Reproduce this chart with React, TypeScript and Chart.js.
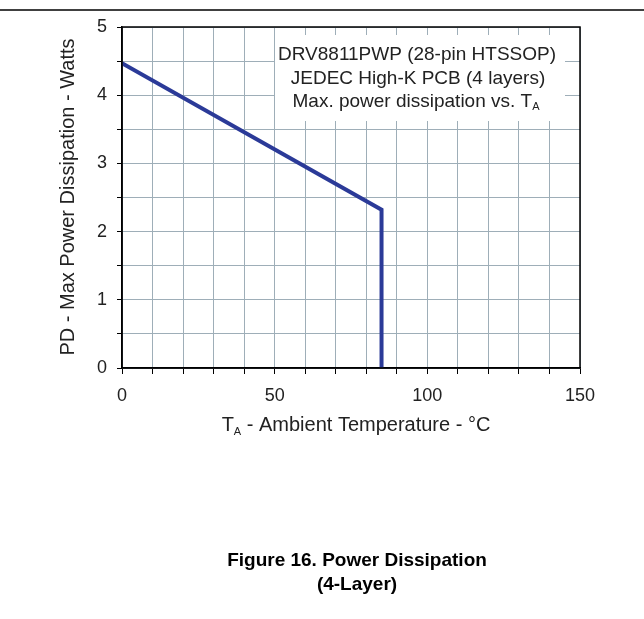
import React, { useEffect, useRef } from "react";
import { Chart, registerables } from "chart.js";

Chart.register(...registerables);

const temperatures = [0, 85, 85];
const powerWatts = [4.47, 2.32, 0];
const xTickLabels = [0, 50, 100, 150];
const yTickLabels = [0, 1, 2, 3, 4, 5];
const noteLines = ["DRV8811PWP (28-pin HTSSOP)", "JEDEC High-K PCB (4 layers)", "Max. power dissipation vs. T"];
const captionLines = ["Figure 16. Power Dissipation", "(4-Layer)"];

const FONT = "'Liberation Sans', Arial, sans-serif";

const decorPlugin = {
  id: "decor",
  beforeDatasetsDraw(chart: any) {
    const { ctx } = chart;
    ctx.save();
    ctx.fillStyle = "#ffffff";
    ctx.fillRect(275, 35, 290, 86);
    ctx.restore();
  },
  afterDraw(chart: any) {
    const { ctx, chartArea: a } = chart;
    ctx.save();
    ctx.strokeStyle = "#000";
    ctx.lineWidth = 1.5;
    ctx.strokeRect(a.left, a.top, a.right - a.left, a.bottom - a.top);
    ctx.lineWidth = 1.5;
    ctx.beginPath();
    ctx.moveTo(0, 10);
    ctx.lineTo(644, 10);
    ctx.stroke();

    ctx.fillStyle = "#222";
    ctx.textBaseline = "middle";
    ctx.textAlign = "center";
    ctx.font = `19px ${FONT}`;
    ctx.fillText(noteLines[0], 417, 55);
    ctx.fillText(noteLines[1], 418, 79);
    const w3 = ctx.measureText(noteLines[2]).width;
    ctx.font = `11px ${FONT}`;
    const ws = ctx.measureText("A").width;
    const x3 = 416 - (w3 + ws) / 2;
    ctx.textAlign = "left";
    ctx.font = `19px ${FONT}`;
    ctx.fillText(noteLines[2], x3, 102);
    ctx.font = `11px ${FONT}`;
    ctx.fillText("A", x3 + w3, 107);

    ctx.font = `20px ${FONT}`;
    const xt1 = "T";
    const xt2 = " - Ambient Temperature - °C";
    const wT = ctx.measureText(xt1).width;
    const wRest = ctx.measureText(xt2).width;
    ctx.font = `11px ${FONT}`;
    const wA = ctx.measureText("A").width;
    const total = wT + wA + wRest;
    const xs = 356 - total / 2;
    ctx.font = `20px ${FONT}`;
    ctx.fillText(xt1, xs, 425);
    ctx.font = `11px ${FONT}`;
    ctx.fillText("A", xs + wT, 432);
    ctx.font = `20px ${FONT}`;
    ctx.fillText(xt2, xs + wT + wA, 425);

    ctx.save();
    ctx.translate(68, 197);
    ctx.rotate(-Math.PI / 2);
    ctx.textAlign = "center";
    ctx.font = `20px ${FONT}`;
    ctx.fillText("PD - Max Power Dissipation - Watts", 0, 0);
    ctx.restore();

    ctx.textAlign = "center";
    ctx.fillStyle = "#000";
    ctx.font = `bold 19px ${FONT}`;
    ctx.fillText(captionLines[0], 357, 561);
    ctx.fillText(captionLines[1], 357, 585);
    ctx.restore();
  },
};

export default function App() {
  const ref = useRef<HTMLCanvasElement>(null);
  useEffect(() => {
    if (!ref.current) return;
    const chart = new Chart(ref.current, {
      type: "line",
      data: {
        datasets: [
          {
            data: temperatures.map((t, i) => ({ x: t, y: powerWatts[i] })),
            borderColor: "#2b3a98",
            borderWidth: 4,
            pointRadius: 0,
            tension: 0,
            fill: false,
          },
        ],
      },
      options: {
        animation: false,
        responsive: false,
        maintainAspectRatio: false,
        layout: { padding: { left: 0, right: 64, top: 27, bottom: 0 } },
        plugins: { legend: { display: false }, tooltip: { enabled: false }, title: { display: false } },
        scales: {
          x: {
            type: "linear",
            min: 0,
            max: 150,
            afterFit: (s: any) => {
              s.height = 251;
            },
            ticks: {
              stepSize: 10,
              autoSkip: false,
              maxRotation: 0,
              padding: 11,
              color: "#222",
              font: { family: FONT, size: 18 },
              callback: (v: any) => (xTickLabels.includes(Number(v)) ? String(v) : ""),
            },
            grid: {
              color: "#9eaeb8",
              lineWidth: 1,
              tickLength: 6,
              tickColor: "#000",
              drawTicks: true,
            },
            border: { color: "#000", width: 1.5 },
          },
          y: {
            type: "linear",
            min: 0,
            max: 5,
            afterFit: (s: any) => {
              s.width = 122;
            },
            ticks: {
              stepSize: 0.5,
              autoSkip: false,
              padding: 10,
              color: "#222",
              font: { family: FONT, size: 18 },
              callback: (v: any) => (yTickLabels.includes(Number(v)) ? String(v) : ""),
            },
            grid: {
              color: "#9eaeb8",
              lineWidth: 1,
              tickLength: 5,
              tickColor: "#000",
            },
            border: { color: "#000", width: 1.5 },
          },
        },
      },
      plugins: [decorPlugin],
    });
    return () => chart.destroy();
  }, []);
  return (
    <div style={{ position: "absolute", left: 0, top: 0, width: 644, height: 619, background: "#fff" }}>
      <canvas ref={ref} width={644} height={619} style={{ width: 644, height: 619, display: "block" }} />
    </div>
  );
}
